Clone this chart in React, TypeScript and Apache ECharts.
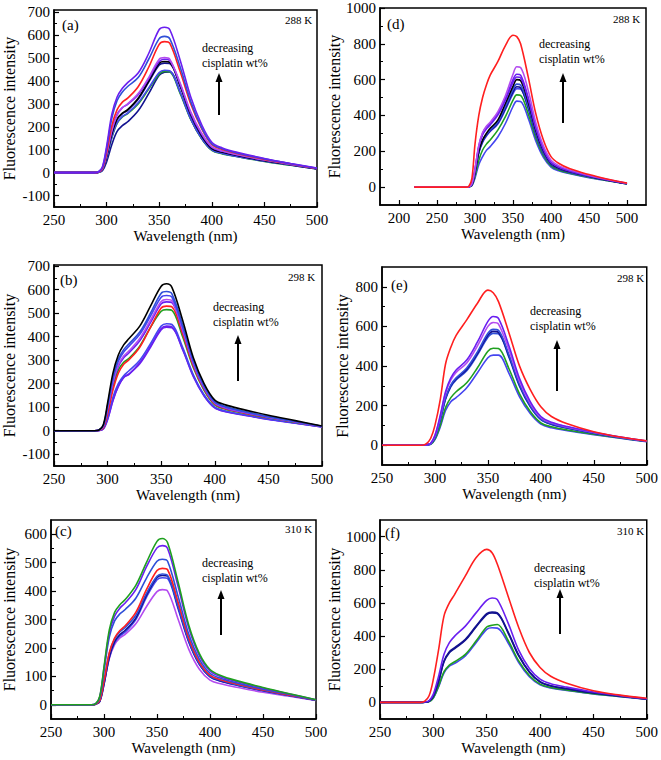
import React, { useEffect, useRef } from "react";
import * as echarts from "echarts";

// ---------- data ----------
const W = [250, 288, 292, 296, 300, 305, 310, 315, 320, 330, 340, 350, 355, 360, 370, 380, 390, 400, 410, 425, 450, 475, 500];
const WD = [220, 250, 288, 292, 296, 300, 305, 310, 315, 320, 330, 340, 350, 355, 360, 370, 380, 390, 400, 410, 425, 450, 475, 500];

const xTicks = [250, 300, 350, 400, 450, 500];
const xMinor = [275, 325, 375, 425, 475];
const xTicksD = [200, 250, 300, 350, 400, 450, 500];
const xMinorD = [225, 275, 325, 375, 425, 475];
const yTicksAB = [-100, 0, 100, 200, 300, 400, 500, 600, 700];
const yMinorAB = [-50, 50, 150, 250, 350, 450, 550, 650];
const yTicksC = [0, 100, 200, 300, 400, 500, 600];
const yMinorC = [50, 150, 250, 350, 450, 550];
const yTicksD = [0, 200, 400, 600, 800, 1000];
const yMinorD = [100, 300, 500, 700, 900];
const yTicksE = [0, 200, 400, 600, 800];
const yMinorE = [100, 300, 500, 700];
const yTicksF = [0, 200, 400, 600, 800, 1000];
const yMinorF = [100, 300, 500, 700, 900];

// (a) 288 K
const aViolet = [0,0,3,25,115,255,330,368,393,435,520,625,635,625,490,330,213,133,108,88,62,40,20];
const aRoyal = [0,0,3,22,105,238,315,352,376,415,495,585,595,585,460,310,200,126,104,85,60,39,19];
const aRed = [0,0,2,18,88,205,275,308,325,375,460,560,572,565,440,300,195,123,101,83,58,38,18];
const aLilac = [0,0,2,15,78,183,250,283,300,345,415,495,502,495,390,265,175,113,95,78,55,36,18];
const aViolet2 = [0,0,2,16,80,187,255,284,298,340,410,485,495,490,385,260,170,110,93,77,55,36,18];
const aBlack = [0,0,2,14,72,172,235,260,275,325,400,478,485,482,380,255,165,106,90,75,53,35,17];
const aNavy = [0,0,2,14,72,170,232,257,272,320,395,470,478,476,375,252,163,105,89,74,52,35,17];
const aBlue = [0,0,1,12,64,155,218,246,260,305,370,437,447,445,350,235,152,99,84,70,50,33,16];
const aGreen = [0,0,1,12,64,153,215,243,258,300,365,430,442,440,345,232,150,97,82,69,49,32,16];
const aNavy2 = [0,0,1,8,47,123,180,205,222,270,345,425,438,440,350,235,152,99,84,71,51,34,17];

// (b) 298 K
const bBlack = [0,0,3,25,118,245,322,365,392,445,530,615,625,610,470,310,200,130,110,92,66,43,20];
const bRoyal = [0,0,3,22,108,228,305,345,370,420,500,585,592,582,450,300,193,124,103,85,61,40,19];
const bBlue = [0,0,3,21,103,220,296,335,360,410,488,568,575,568,440,293,188,121,100,83,59,39,18];
const bLilac = [0,0,2,18,95,208,280,318,340,392,470,550,558,553,430,287,184,118,98,81,58,38,18];
const bViolet = [0,0,2,18,93,203,273,310,332,383,460,540,548,545,425,283,181,116,96,80,57,38,18];
const bRed = [0,0,2,12,72,173,245,283,302,355,440,522,530,527,412,275,177,113,94,78,56,37,18];
const bGreen = [0,0,2,15,83,188,258,291,308,360,440,508,515,512,400,268,172,110,92,77,55,36,18];
const bBlue2 = [0,0,1,10,57,143,200,234,255,300,370,445,455,452,355,238,153,100,84,70,50,33,17];
const bNavy = [0,0,1,8,50,131,190,226,240,290,360,435,445,442,348,233,150,98,82,69,49,33,16];
const bViolet2 = [0,0,1,7,47,128,188,228,242,285,355,430,440,438,345,230,148,97,81,68,48,32,16];

// (c) 310 K
const cGreen = [0,0,3,30,133,263,325,352,370,420,500,575,585,570,430,280,180,124,103,85,61,39,18];
const cViolet = [0,0,3,28,128,253,312,340,358,405,485,552,560,550,415,270,173,119,99,82,59,38,18];
const cRoyal = [0,0,3,25,118,238,295,320,335,375,445,505,512,505,380,248,160,111,93,77,55,36,17];
const cRed = [0,0,2,15,83,183,235,261,278,325,405,472,480,475,360,235,150,104,88,73,52,34,17];
const cBlue = [0,0,2,15,83,181,232,257,272,315,392,452,460,455,345,225,145,101,86,71,51,33,16];
const cNavy = [0,0,2,12,73,168,222,247,262,305,385,448,455,452,342,223,143,99,84,70,50,33,16];
const cBlue2 = [0,0,2,12,73,166,218,242,256,300,378,440,447,444,336,220,141,98,83,69,49,32,16];
const cLilac = [0,0,2,12,73,163,212,235,248,285,345,398,405,400,300,195,125,87,74,62,44,30,15];

// (d) 288 K
const dRed = [0,0,0,5,50,240,400,500,570,625,700,790,848,840,800,615,410,263,170,133,102,70,44,22];
const dLilac = [0,0,0,2,20,100,232,305,340,362,420,510,630,672,668,540,360,230,150,120,95,66,42,21];
const dViolet = [0,0,0,2,20,100,230,300,335,355,410,495,600,630,625,500,335,215,140,113,90,63,40,20];
const dViolet2 = [0,0,0,2,18,95,222,292,325,347,402,485,585,615,610,490,328,210,137,111,89,62,40,20];
const dBlack = [0,0,0,2,15,85,200,263,300,328,374,467,562,600,595,475,318,205,134,108,87,61,39,20];
const dRoyal = [0,0,0,2,15,85,200,260,295,320,365,450,545,575,570,455,305,197,130,105,85,60,39,20];
const dNavy = [0,0,0,2,14,80,195,255,290,315,358,440,532,560,555,445,298,192,127,103,83,59,38,19];
const dBlue = [0,0,0,2,14,78,190,250,285,310,352,432,522,550,548,440,295,190,126,102,82,58,38,19];
const dGreen = [0,0,0,1,10,60,150,207,240,263,318,393,485,515,512,410,275,177,118,96,78,55,36,18];
const dBlue2 = [0,0,0,1,8,50,125,170,205,226,280,355,450,480,478,385,258,166,112,91,75,53,35,18];

// (e) 298 K
const eRed = [0,0,8,35,100,230,410,495,555,633,716,783,770,725,566,398,281,194,145,108,68,41,22];
const eViolet = [0,0,2,10,50,150,270,340,380,430,520,625,650,640,500,335,220,145,116,94,65,41,21];
const eLilac = [0,0,2,10,48,145,262,330,368,415,500,600,620,612,480,322,212,140,113,92,64,40,21];
const eRoyal = [0,0,2,8,40,130,240,305,340,390,470,565,585,580,455,305,200,133,108,88,62,39,20];
const eNavy = [0,0,2,8,40,128,236,300,335,383,462,555,575,570,448,300,197,131,106,87,61,39,20];
const eBlue = [0,0,2,8,38,125,232,295,330,376,455,545,565,562,442,296,194,129,105,86,60,38,20];
const eGreen = [0,0,1,5,30,100,190,240,270,315,390,475,490,488,385,258,170,113,93,77,55,36,19];
const eBlue2 = [0,0,1,5,28,92,175,220,240,290,365,442,455,455,362,243,160,107,88,73,53,35,18];

// (f) 310 K
const fRed = [0,0,8,40,140,321,522,600,652,763,873,923,903,833,642,452,301,211,158,116,70,44,25];
const fViolet = [0,0,2,10,50,160,290,360,400,460,540,615,630,620,480,315,205,140,113,92,63,41,22];
const fNavy = [0,0,2,8,40,130,250,305,330,380,460,535,545,540,425,285,185,125,101,83,58,39,21];
const fNavy2 = [0,0,2,8,38,128,245,300,325,375,455,530,540,535,420,280,182,123,99,82,57,38,20];
const fGreen = [0,0,1,5,28,100,185,225,245,290,370,455,465,470,375,250,162,110,90,75,53,36,20];
const fBlue = [0,0,1,5,26,95,178,218,235,280,360,440,450,448,360,240,155,106,87,72,51,35,19];

// ---------- styles ----------
const C = {
  violet: "#6a1ff0",
  royal: "#2f4fd8",
  red: "#ff1f1f",
  lilac: "#b44cf0",
  black: "#000000",
  navy: "#12128f",
  green: "#1fa01f",
  blue: "#4545f0",
};
const FONT = "'Liberation Serif', 'Times New Roman', serif";

const panels = [
  {
    tag: "(a)", temp: "288 K", box: [53, 10, 264, 197], x: [250, 500], y: [-150, 710],
    xt: xTicks, xm: xMinor, yt: yTicksAB, ym: yMinorAB, yGap: 37, wl: W,
    lines: [[aNavy2, C.navy], [aGreen, C.green], [aBlue, C.blue], [aNavy, C.navy], [aBlack, C.black], [aViolet2, C.violet], [aLilac, C.lilac], [aRed, C.red], [aRoyal, C.royal], [aViolet, C.violet]],
    tagPos: [62, 25], tempPos: [285, 20], txtPos: [202, 48], arrow: [219, 115, 73],
  },
  {
    tag: "(b)", temp: "298 K", box: [53, 265, 269, 201], x: [250, 500], y: [-150, 705],
    xt: xTicks, xm: xMinor, yt: yTicksAB, ym: yMinorAB, yGap: 37, wl: W,
    lines: [[bViolet2, C.violet], [bNavy, C.violet], [bBlue2, C.blue], [bGreen, C.green], [bRed, C.red], [bViolet, C.violet], [bLilac, C.lilac], [bBlue, C.blue], [bRoyal, C.royal], [bBlack, C.black]],
    tagPos: [60, 280], tempPos: [288, 277], txtPos: [213, 307], arrow: [238, 381, 335],
  },
  {
    tag: "(c)", temp: "310 K", box: [49, 520, 267, 199], x: [250, 500], y: [-50, 650],
    xt: xTicks, xm: xMinor, yt: yTicksC, ym: yMinorC, yGap: 34, wl: W,
    lines: [[cLilac, C.lilac], [cBlue2, C.blue], [cNavy, C.navy], [cBlue, C.royal], [cRed, C.red], [cRoyal, C.royal], [cViolet, C.violet], [cGreen, C.green]],
    tagPos: [55, 531], tempPos: [285, 529], txtPos: [202, 563], arrow: [221, 635, 590],
  },
  {
    tag: "(d)", temp: "288 K", box: [380, 8, 266, 197], x: [175, 525], y: [-100, 1000],
    xt: xTicksD, xm: xMinorD, yt: yTicksD, ym: yMinorD, yGap: 33, wl: WD,
    lines: [[dBlue2, C.blue], [dGreen, C.green], [dBlue, C.blue], [dNavy, C.navy], [dRoyal, C.royal], [dBlack, C.black], [dViolet2, C.violet], [dViolet, C.violet], [dLilac, C.lilac], [dRed, C.red]],
    tagPos: [387, 24], tempPos: [613, 19], txtPos: [539, 44], arrow: [563, 123, 73],
  },
  {
    tag: "(e)", temp: "298 K", box: [382, 267, 266, 198], x: [250, 500], y: [-100, 900],
    xt: xTicks, xm: xMinor, yt: yTicksE, ym: yMinorE, yGap: 32, wl: W,
    lines: [[eBlue2, C.blue], [eGreen, C.green], [eBlue, C.royal], [eNavy, C.navy], [eRoyal, C.royal], [eLilac, C.lilac], [eViolet, C.violet], [eRed, C.red]],
    tagPos: [391, 285], tempPos: [617, 278], txtPos: [530, 311], arrow: [557, 391, 340],
  },
  {
    tag: "(f)", temp: "310 K", box: [380, 520, 268, 199], x: [250, 500], y: [-100, 1100],
    xt: xTicks, xm: xMinor, yt: yTicksF, ym: yMinorF, yGap: 35, wl: W,
    lines: [[fBlue, C.blue], [fGreen, C.green], [fNavy2, C.navy], [fNavy, C.navy], [fViolet, C.violet], [fRed, C.red]],
    tagPos: [385, 533], tempPos: [617, 531], txtPos: [534, 568], arrow: [560, 634, 589],
  },
];

const plain = (v: number) => String(v);

function buildOption() {
  const grid: any[] = [];
  const xAxis: any[] = [];
  const yAxis: any[] = [];
  const series: any[] = [];
  const graphic: any[] = [];

  panels.forEach((p, i) => {
    grid.push({
      left: p.box[0], top: p.box[1], width: p.box[2], height: p.box[3],
      show: true, borderColor: "#000", borderWidth: 1.5, backgroundColor: "transparent",
    });
    xAxis.push({
      type: "value", gridIndex: i, min: p.x[0], max: p.x[1], position: "bottom",
      name: "Wavelength (nm)", nameLocation: "middle", nameGap: 21,
      nameTextStyle: { fontFamily: FONT, fontSize: 15, fontWeight: "normal", color: "#000" },
      axisLine: { show: true, onZero: false, lineStyle: { color: "#000", width: 1.5 } },
      axisTick: { show: true, inside: true, length: 5, customValues: p.xt, lineStyle: { color: "#000", width: 1.2 } },
      axisLabel: { show: true, customValues: p.xt, formatter: plain, fontFamily: FONT, fontSize: 15, fontWeight: "normal", color: "#000", margin: 5 },
      splitLine: { show: false },
    });
    xAxis.push({
      type: "value", gridIndex: i, min: p.x[0], max: p.x[1], position: "bottom",
      axisLine: { show: false, onZero: false },
      axisTick: { show: true, inside: true, length: 3, customValues: p.xm, lineStyle: { color: "#000", width: 1 } },
      axisLabel: { show: false },
      splitLine: { show: false },
    });
    yAxis.push({
      type: "value", gridIndex: i, min: p.y[0], max: p.y[1], position: "left",
      name: "Fluorescence intensity", nameLocation: "middle", nameGap: p.yGap,
      nameTextStyle: { fontFamily: FONT, fontSize: 16, fontWeight: "normal", color: "#000" },
      axisLine: { show: true, onZero: false, lineStyle: { color: "#000", width: 1.5 } },
      axisTick: { show: true, inside: true, length: 5, customValues: p.yt, lineStyle: { color: "#000", width: 1.2 } },
      axisLabel: { show: true, customValues: p.yt, formatter: plain, fontFamily: FONT, fontSize: 15, fontWeight: "normal", color: "#000", margin: 4 },
      splitLine: { show: false },
    });
    yAxis.push({
      type: "value", gridIndex: i, min: p.y[0], max: p.y[1], position: "left",
      axisLine: { show: false, onZero: false },
      axisTick: { show: true, inside: true, length: 3, customValues: p.ym, lineStyle: { color: "#000", width: 1 } },
      axisLabel: { show: false },
      splitLine: { show: false },
    });
    p.lines.forEach(([vals, color]: any, k: number) => {
      series.push({
        type: "line", name: p.tag + k, xAxisIndex: 2 * i, yAxisIndex: 2 * i,
        data: p.wl.map((w, j) => [w, vals[j]]),
        showSymbol: false, symbol: "none", smooth: 0.35,
        lineStyle: { color, width: 1.6 }, itemStyle: { color },
        silent: true, clip: true,
      });
    });
    const txt = (text: string, x: number, y: number, size: number) => ({
      type: "text", x, y,
      style: { text, font: `${size}px 'Liberation Serif'`, fill: "#000", textAlign: "left", textVerticalAlign: "middle", align: "left", verticalAlign: "middle" },
    });
    graphic.push(txt(p.tag, p.tagPos[0], p.tagPos[1], 15));
    graphic.push(txt(p.temp, p.tempPos[0], p.tempPos[1], 11));
    graphic.push(txt("decreasing", p.txtPos[0], p.txtPos[1], 12));
    graphic.push(txt("cisplatin wt%", p.txtPos[0], p.txtPos[1] + 15, 12));
    const [ax, ay1, ay2] = p.arrow;
    graphic.push({
      type: "line",
      shape: { x1: ax, y1: ay1, x2: ax, y2: ay2 + 7 },
      style: { stroke: "#000", lineWidth: 2 },
    });
    graphic.push({
      type: "polygon",
      shape: { points: [[ax - 3.5, ay2 + 9], [ax + 3.5, ay2 + 9], [ax, ay2]] },
      style: { fill: "#000" },
    });
  });

  return {
    animation: false,
    backgroundColor: "#ffffff",
    textStyle: { fontFamily: FONT },
    grid, xAxis, yAxis, series, graphic,
  };
}

export default function App() {
  const ref = useRef<HTMLDivElement>(null);
  useEffect(() => {
    if (!ref.current) return;
    const chart = echarts.init(ref.current, undefined, { renderer: "svg" });
    chart.setOption(buildOption() as any);
    return () => chart.dispose();
  }, []);
  return (
    <div
      ref={ref}
      style={{ position: "absolute", left: 0, top: 0, width: 661, height: 760, background: "#fff" }}
    />
  );
}
